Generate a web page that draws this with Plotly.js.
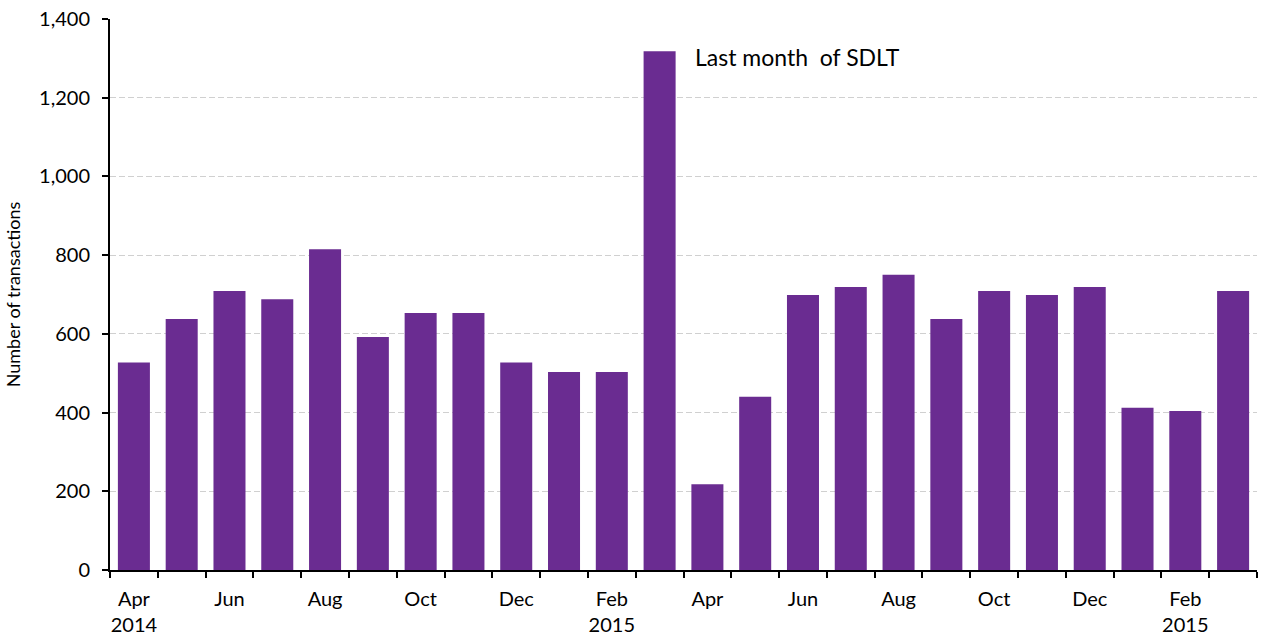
<!DOCTYPE html>
<html>
<head>
<meta charset="utf-8">
<script src="https://cdn.plot.ly/plotly-3.0.1.min.js"></script>
<style>html,body{margin:0;padding:0;background:#fff;}#chart{width:1261px;height:635px;}</style>
</head>
<body>
<div id="chart"></div>
<script>
const months = ["Apr 2014","May 2014","Jun 2014","Jul 2014","Aug 2014","Sep 2014","Oct 2014","Nov 2014","Dec 2014","Jan 2015","Feb 2015","Mar 2015","Apr 2015","May 2015","Jun 2015","Jul 2015","Aug 2015","Sep 2015","Oct 2015","Nov 2015","Dec 2015","Jan 2016","Feb 2016","Mar 2016"];
const transactions = [527,638,709,688,815,592,653,653,527,503,503,1318,218,440,699,719,750,638,709,699,719,412,404,709];
const tickLabels = ["Apr<br>2014","Jun","Aug","Oct","Dec","Feb<br>2015","Apr","Jun","Aug","Oct","Dec","Feb<br>2015"];
const annotationText = "Last month  of SDLT";

const idx = months.map((_, i) => i);
const labelPos = tickLabels.map((_, i) => i * 2);
const boundaries = months.concat([""]).map((_, i) => i - 0.5);

const font = "Lato, 'DejaVu Sans', sans-serif";
Plotly.newPlot("chart", [{
  type: "bar",
  x: idx,
  y: transactions,
  hovertext: months,
  hoverinfo: "text+y",
  textposition: "none",
  marker: {color: "#6a2c91"},
  width: 0.67
}], {
  width: 1261, height: 635,
  margin: {l: 110, r: 4, t: 19, b: 65},
  paper_bgcolor: "#fff", plot_bgcolor: "#fff",
  showlegend: false,
  font: {family: font, size: 20, color: "#000"},
  xaxis: {
    range: [-0.5, 23.5],
    tickmode: "array", tickvals: labelPos, ticktext: tickLabels,
    ticks: "", showgrid: false, zeroline: false,
    showline: true, linecolor: "#000", linewidth: 2,
    ticklabelstandoff: 10,
    tickfont: {family: font, size: 20, color: "#000"},
    minor: {tickmode: "array", tickvals: boundaries, ticks: "outside", ticklen: 6, tickwidth: 2, tickcolor: "#000", showgrid: false}
  },
  yaxis: {
    range: [0, 1400], dtick: 200, tickformat: ",d",
    showline: true, linecolor: "#000", linewidth: 2,
    ticks: "outside", ticklen: 6, tickwidth: 2, tickcolor: "#000",
    showgrid: true, gridcolor: "#d0d0d0", griddash: "6px,3px", gridwidth: 1.3,
    zeroline: false,
    ticklabelstandoff: 8,
    tickfont: {family: font, size: 20, color: "#000"},
    title: {text: "Number of transactions", font: {family: font, size: 18, color: "#000"}, standoff: 14}
  },
  annotations: [{
    xref: "x", yref: "y", x: 11.69, y: 1303,
    text: annotationText, showarrow: false,
    xanchor: "left", yanchor: "middle",
    font: {family: font, size: 23, color: "#000"}
  }]
}, {displayModeBar: false});
</script>
</body>
</html>
